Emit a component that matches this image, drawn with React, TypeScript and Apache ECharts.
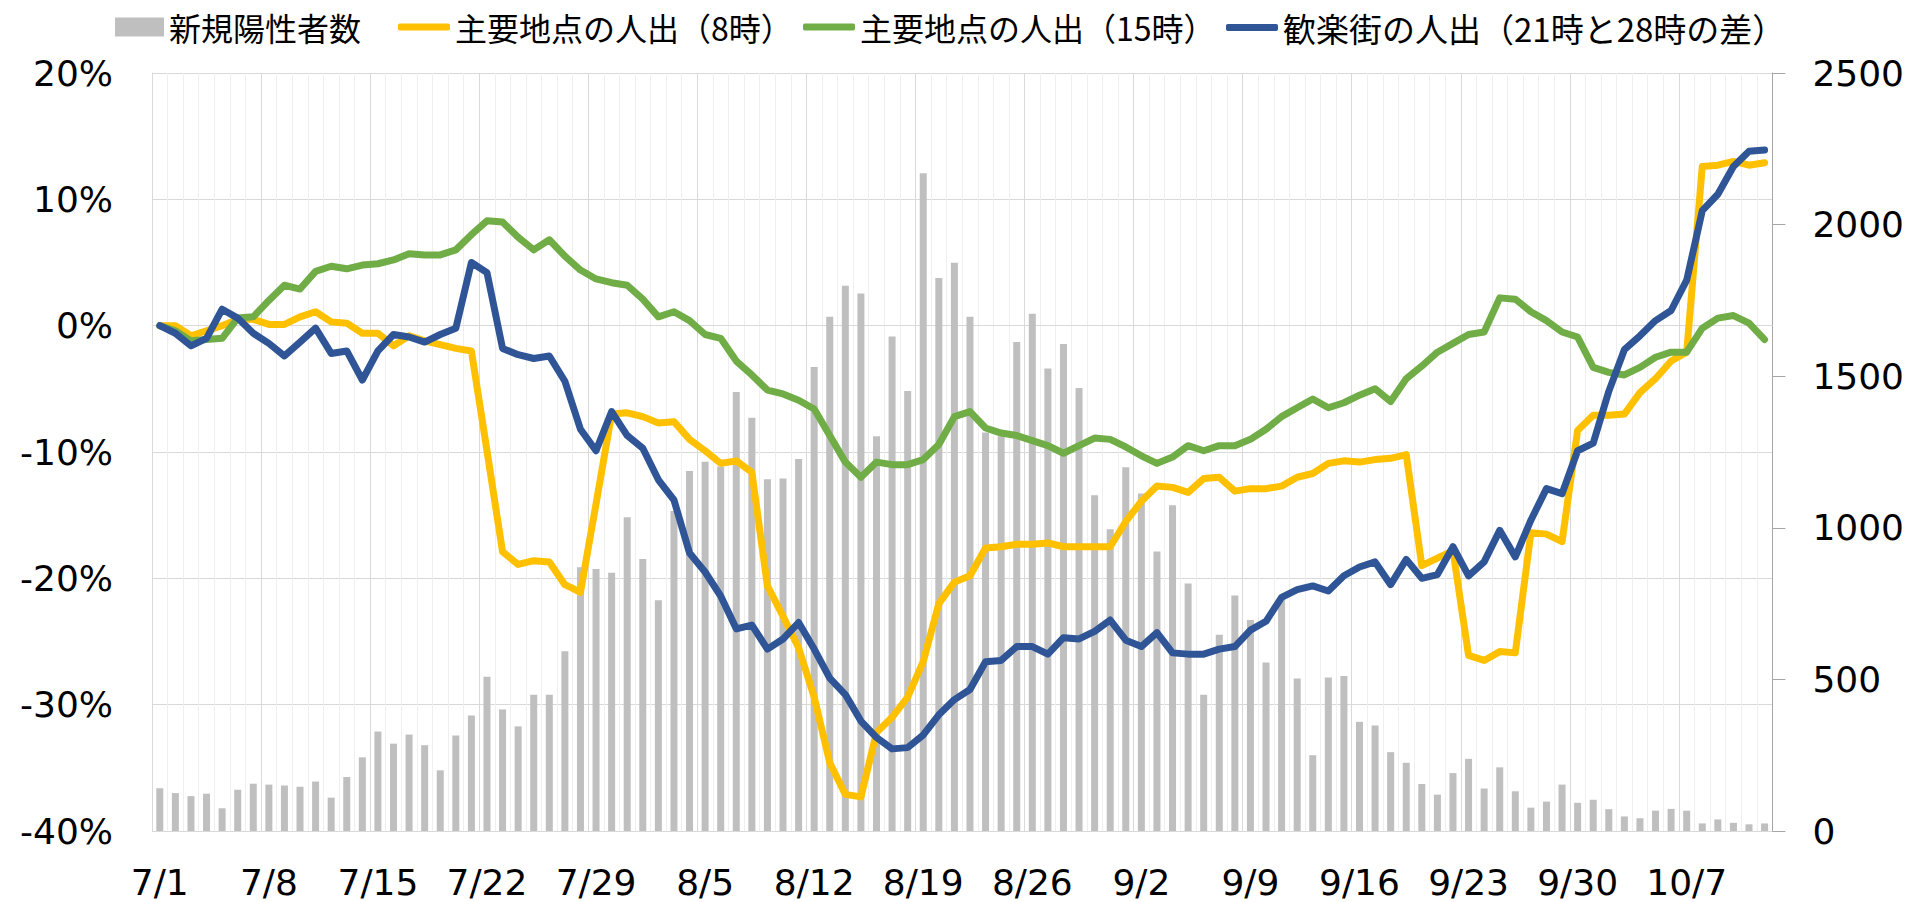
import React, { useEffect, useRef } from "react";
import * as echarts from "echarts";

const dates: string[] = [
  "7/1","7/2","7/3","7/4","7/5","7/6","7/7","7/8","7/9","7/10","7/11","7/12","7/13","7/14","7/15","7/16","7/17","7/18","7/19","7/20","7/21","7/22","7/23","7/24","7/25","7/26","7/27","7/28","7/29","7/30","7/31",
  "8/1","8/2","8/3","8/4","8/5","8/6","8/7","8/8","8/9","8/10","8/11","8/12","8/13","8/14","8/15","8/16","8/17","8/18","8/19","8/20","8/21","8/22","8/23","8/24","8/25","8/26","8/27","8/28","8/29","8/30","8/31",
  "9/1","9/2","9/3","9/4","9/5","9/6","9/7","9/8","9/9","9/10","9/11","9/12","9/13","9/14","9/15","9/16","9/17","9/18","9/19","9/20","9/21","9/22","9/23","9/24","9/25","9/26","9/27","9/28","9/29","9/30",
  "10/1","10/2","10/3","10/4","10/5","10/6","10/7","10/8","10/9","10/10","10/11","10/12",
];

const newCases: number[] = [
  141,125,115,123,75,136,156,153,150,146,163,110,178,243,328,288,318,283,
  200,315,381,509,401,345,449,449,593,870,864,852,1035,897,761,1055,1187,1218,
  1202,1448,1363,1160,1163,1227,1530,1696,1798,1773,1302,1631,1451,2169,1824,1874,1696,1314,
  1302,1613,1706,1525,1606,1461,1107,995,1200,1113,922,1074,816,449,647,777,696,556,
  764,503,250,506,511,360,348,260,225,155,120,191,238,140,210,131,77,97,
  153,93,103,72,48,42,67,73,67,25,38,27,22,25,
];

const main8: number[] = [
  0,0,-0.8,-0.4,0,0.5,0.5,0.1,0.1,0.7,1.1,0.3,0.2,-0.6,-0.6,-1.6,-0.8,-1.2,
  -1.5,-1.8,-2.0,-9.9,-17.9,-18.9,-18.6,-18.7,-20.5,-21.1,-14.1,-7.0,-6.9,-7.2,-7.7,-7.6,-9.0,-9.9,
  -10.9,-10.7,-11.6,-20.6,-23.0,-25.5,-29.4,-34.6,-37.1,-37.3,-32.2,-31.0,-29.4,-26.6,-22.0,-20.3,-19.8,-17.6,
  -17.5,-17.3,-17.3,-17.2,-17.5,-17.5,-17.5,-17.5,-15.5,-13.9,-12.7,-12.8,-13.2,-12.1,-12.0,-13.1,-12.9,-12.9,
  -12.7,-12.0,-11.7,-10.9,-10.7,-10.8,-10.6,-10.5,-10.2,-19.0,-18.4,-17.8,-26.1,-26.5,-25.8,-25.9,-16.4,-16.5,
  -17.1,-8.3,-7.1,-7.1,-7.0,-5.3,-4.2,-2.8,-2.1,12.6,12.7,13.0,12.7,12.9,
];

const main15: number[] = [
  0,-0.4,-1.2,-1.1,-1.0,0.6,0.7,2.0,3.2,2.9,4.3,4.7,4.5,4.8,4.9,5.2,5.7,5.6,
  5.6,6.0,7.2,8.3,8.2,7.0,6.0,6.8,5.5,4.4,3.7,3.4,3.2,2.1,0.7,1.1,0.4,-0.7,
  -1.0,-2.8,-3.9,-5.1,-5.4,-5.9,-6.6,-8.7,-10.8,-12.0,-10.8,-11.0,-11.0,-10.6,-9.4,-7.2,-6.8,-8.1,
  -8.5,-8.7,-9.1,-9.5,-10.1,-9.5,-8.9,-9.0,-9.6,-10.3,-10.9,-10.4,-9.5,-9.9,-9.5,-9.5,-9.0,-8.2,
  -7.2,-6.5,-5.8,-6.5,-6.1,-5.5,-5.0,-6.0,-4.2,-3.2,-2.1,-1.4,-0.7,-0.5,2.2,2.1,1.1,0.4,
  -0.5,-0.9,-3.3,-3.7,-3.9,-3.3,-2.5,-2.1,-2.1,-0.2,0.6,0.8,0.2,-1.1,
];

const nightlife: number[] = [
  0,-0.6,-1.6,-1.0,1.3,0.6,-0.6,-1.4,-2.4,-1.3,-0.2,-2.2,-2.0,-4.3,-2.0,-0.7,-0.9,-1.3,
  -0.7,-0.2,5.0,4.2,-1.8,-2.3,-2.6,-2.4,-4.4,-8.2,-9.9,-6.8,-8.7,-9.7,-12.2,-13.8,-18.0,-19.5,
  -21.4,-24.0,-23.7,-25.6,-24.8,-23.5,-25.6,-27.9,-29.2,-31.3,-32.6,-33.5,-33.4,-32.4,-30.8,-29.6,-28.8,-26.6,
  -26.5,-25.4,-25.4,-26.0,-24.7,-24.8,-24.2,-23.3,-24.9,-25.4,-24.3,-25.9,-26.0,-26.0,-25.6,-25.4,-24.1,-23.4,
  -21.5,-20.9,-20.6,-21.0,-19.8,-19.1,-18.7,-20.5,-18.5,-20.0,-19.7,-17.5,-19.8,-18.7,-16.2,-18.3,-15.4,-12.9,
  -13.3,-9.9,-9.3,-5.2,-1.9,-0.8,0.4,1.2,3.6,9.1,10.4,12.6,13.8,13.9,
];

const seriesNames = [
  "新規陽性者数",
  "主要地点の人出（8時）",
  "主要地点の人出（15時）",
  "歓楽街の人出（21時と28時の差）",
];

const leftTicks = { min: -40, max: 20, interval: 10 };
const rightTicks = { min: 0, max: 2500, interval: 500 };

const AXIS_FONT = "DejaVu Sans";
const LEGEND_FONT = "Noto Sans CJK JP";

export default function App() {
  const ref = useRef<HTMLDivElement>(null);

  useEffect(() => {
    document.body.style.margin = "0";
    if (!ref.current) return;
    const chart = echarts.init(ref.current, undefined, { renderer: "svg" });

    const legendText = { fontSize: 32, fontFamily: LEGEND_FONT, color: "#000" };
    const lineLegend = (name: string, left: number, fontSize = 32) => ({
      data: [name],
      left,
      top: 11,
      padding: 0,
      itemWidth: 52,
      itemHeight: 7,
      icon: "roundRect",
      itemGap: 0,
      textStyle: { ...legendText, fontSize },
    });

    const axisLabelStyle = { fontSize: 36, fontFamily: AXIS_FONT, color: "#000" };
    const lineW = 7;

    chart.setOption({
      animation: false,
      backgroundColor: "#fff",
      legend: [
        {
          data: [seriesNames[0]],
          left: 115,
          top: 11,
          padding: 0,
          itemWidth: 49,
          itemHeight: 19,
          icon: "rect",
          textStyle: legendText,
        },
        lineLegend(seriesNames[1], 398),
        lineLegend(seriesNames[2], 803),
        lineLegend(seriesNames[3], 1226, 33),
      ],
      grid: { left: 152, right: 134, top: 73, bottom: 71, containLabel: false },
      xAxis: [
        {
          type: "category",
          data: dates,
          boundaryGap: true,
          axisLine: { show: true, lineStyle: { color: "#d9d9d9", width: 1 } },
          axisTick: { show: false },
          axisLabel: { ...axisLabelStyle, interval: 6, margin: 33 },
          splitLine: { show: true, interval: 0, lineStyle: { color: "#efefef", width: 1 } },
        },
        {
          type: "category",
          data: dates,
          boundaryGap: true,
          position: "bottom",
          axisLine: { show: false },
          axisTick: { show: false },
          axisLabel: { show: false },
          splitLine: { show: true, interval: 6, lineStyle: { color: "#d9d9d9", width: 1 } },
        },
      ],
      yAxis: [
        {
          type: "value",
          position: "left",
          ...leftTicks,
          axisLine: { show: true, lineStyle: { color: "#d9d9d9", width: 1 } },
          axisTick: { show: false },
          axisLabel: { ...axisLabelStyle, margin: 39, formatter: "{value}%" },
          splitLine: { show: true, lineStyle: { color: "#d9d9d9", width: 1 } },
        },
        {
          type: "value",
          position: "right",
          ...rightTicks,
          axisLine: { show: true, lineStyle: { color: "#a6a6a6", width: 1 } },
          axisTick: { show: true, length: 13, lineStyle: { color: "#a6a6a6", width: 1 } },
          axisLabel: { ...axisLabelStyle, margin: 40, formatter: (v: number) => String(v) },
          splitLine: { show: false },
        },
      ],
      series: [
        {
          name: seriesNames[0],
          type: "bar",
          xAxisIndex: 0,
          yAxisIndex: 1,
          data: newCases,
          barWidth: 7,
          itemStyle: { color: "#BFBFBF" },
          z: 1,
        },
        {
          name: seriesNames[1],
          type: "line",
          yAxisIndex: 0,
          data: main8,
          showSymbol: false,
          symbol: "none",
          itemStyle: { color: "#FFC000" },
          lineStyle: { color: "#FFC000", width: lineW, cap: "round", join: "round" },
          z: 3,
        },
        {
          name: seriesNames[2],
          type: "line",
          yAxisIndex: 0,
          data: main15,
          showSymbol: false,
          symbol: "none",
          itemStyle: { color: "#70AD47" },
          lineStyle: { color: "#70AD47", width: lineW, cap: "round", join: "round" },
          z: 4,
        },
        {
          name: seriesNames[3],
          type: "line",
          yAxisIndex: 0,
          data: nightlife,
          showSymbol: false,
          symbol: "none",
          itemStyle: { color: "#2F5597" },
          lineStyle: { color: "#2F5597", width: lineW, cap: "round", join: "round" },
          z: 5,
        },
      ],
    });

    return () => chart.dispose();
  }, []);

  return (
    <div
      ref={ref}
      style={{ position: "fixed", left: 0, top: 0, width: 1907, height: 902 }}
    />
  );
}
